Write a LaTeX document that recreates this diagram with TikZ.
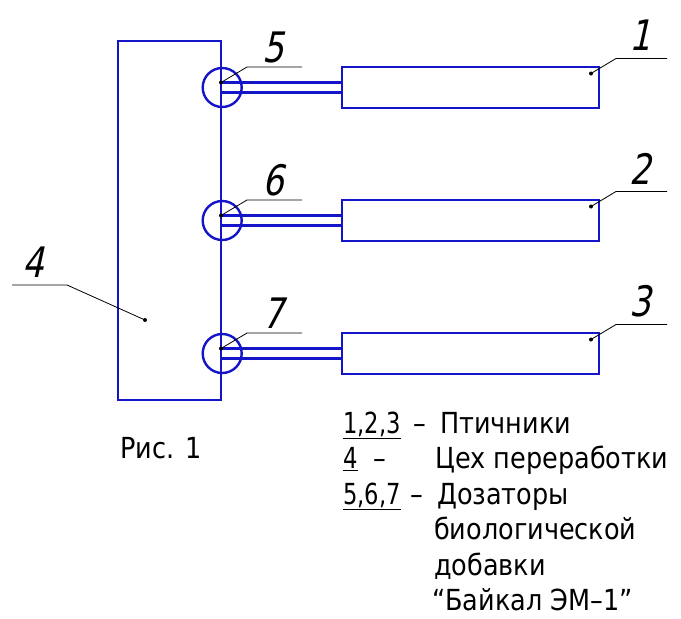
\documentclass[tikz,border=0pt]{standalone}
\usepackage{fontspec}
\setmainfont{DejaVu Sans}[FakeStretch=0.88]
\newfontfamily\numfont{DejaVu Sans}[FakeStretch=0.78]
\newfontfamily\posfont{DejaVu Sans}[FakeStretch=0.8,FakeSlant=0.22]
\usetikzlibrary{positioning, calc}
\definecolor{schemeblue}{HTML}{1414C8}
\tikzset{
  unit/.style={draw=schemeblue, line width=2.4pt, rectangle, inner sep=0pt},
  doser/.style={draw=schemeblue, line width=2.4pt, circle, minimum size=39pt, inner sep=0pt},
  pipe/.style={draw=schemeblue, line width=2.3pt},
  leader/.style={draw=black, line width=0.8pt},
  tip/.style={circle, fill=black, inner sep=0pt, minimum size=4pt},
  poslabel/.style={font=\posfont\fontsize{42}{42}\selectfont, inner sep=0pt},
  legend/.style={font=\fontsize{29}{29}\selectfont, inner sep=0pt, anchor=base west},
  legnum/.style={legend, font=\numfont\fontsize{29}{29}\selectfont},
}
\begin{document}
\begin{tikzpicture}[x=1pt, y=-1pt]
  \useasboundingbox (0,0) rectangle (681,619);
  \node[unit, minimum width=103pt, minimum height=359pt] (shop) at (169.5,220.5) {};
  \foreach \i/\r/\n in {1/87.5/5, 2/220.5/6, 3/353.5/7} {
    \node[unit, minimum width=257pt, minimum height=41pt] (house\i) at (470.5,\r) {};
    \node[doser] (doser\i) at (shop.east |- house\i) {};
    \draw[pipe] ([yshift=5pt]doser\i.center) -- ([yshift=5pt]house\i.west);
    \draw[pipe] ([yshift=-5pt]doser\i.center) -- ([yshift=-5pt]house\i.west);
    % doser leaders
    \node[tip] (dtip\i) at (221,\r-5) {};
    \coordinate (dbend\i) at (247,\r-20.5);
    \coordinate (dend\i) at (302,\r-20.5);
    \node[poslabel] (dlab\i) at (273,\r-40) {\n};
    \draw[leader] (dtip\i.center) -- (dbend\i) -- (dend\i);
    % house leaders
    \node[tip] (htip\i) at (591,\r-14) {};
    \coordinate (hbend\i) at (616,\r-29);
    \coordinate (hend\i) at (667,\r-29);
    \node[poslabel] (hlab\i) at (640,\r-52) {\i};
    \draw[leader] (htip\i.center) -- (hbend\i) -- (hend\i);
  }
  \node[tip] (stip) at (145,320) {};
  \coordinate (sbend) at (67,285);
  \coordinate (send) at (12,285);
  \node[poslabel] (slab) at (33,262) {4};
  \draw[leader] (stip.center) -- (sbend) -- (send);

  \node[legend] (fig) at (120,458) {Рис. 1};

  \node[legnum] (k1) at (343,433) {\underline{1,2,3}};
  \node[legend] (m1) at (413,433) {–};
  \node[legend] (t1) at (440,433) {Птичники};
  \node[legnum] (k2) at (343,468.5) {\underline{4}};
  \node[legend] (m2) at (373,468.5) {–};
  \node[legend] (t2) at (435,468.5) {Цех переработки};
  \node[legnum] (k3) at (343,504) {\underline{5,6,7}};
  \node[legend] (m3) at (410,504) {–};
  \node[legend] (t3) at (437,504) {Дозаторы};
  \node[legend] (t4) at (434,539.5) {биологической};
  \node[legend] (t5) at (434,575) {добавки};
  \node[legend] (t6) at (432,610.5) {“Байкал ЭМ–1”};
\end{tikzpicture}
\end{document}
